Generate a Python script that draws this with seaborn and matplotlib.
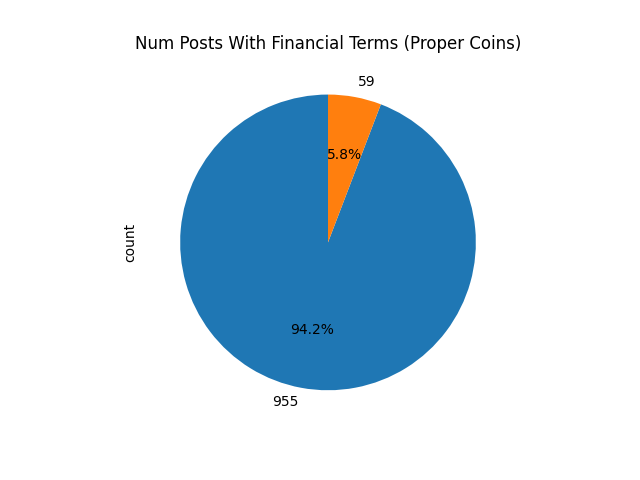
import matplotlib
matplotlib.use("Agg")
import matplotlib.pyplot as plt
import seaborn as sns

# counts of posts
labels = ["955", "59"]
counts = [955, 59]

colors = sns.color_palette("tab10", 2)

fig, ax = plt.subplots(figsize=(6.4, 4.8), dpi=100)
ax.pie(counts, labels=labels, colors=colors, autopct="%1.1f%%", startangle=90)
ax.set_ylabel("count")
ax.set_title("Num Posts With Financial Terms (Proper Coins)")
ax.set_aspect("equal")

fig.savefig("out.png", dpi=100)
